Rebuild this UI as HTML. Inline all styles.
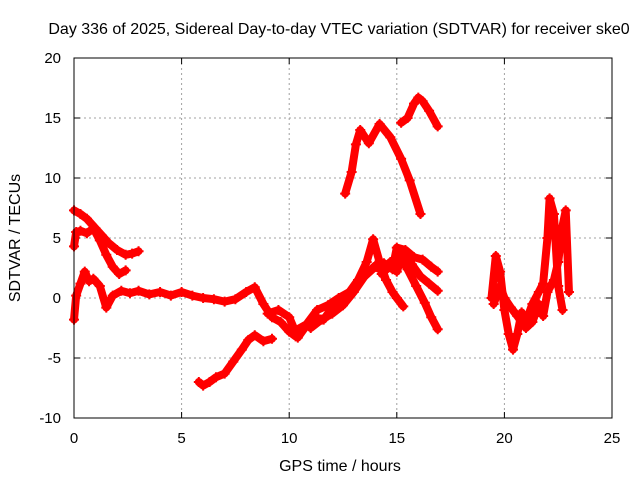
<!DOCTYPE html>
<html><head><meta charset="utf-8"><style>
body{margin:0;background:#fff}
svg{display:block;font-family:"Liberation Sans",sans-serif}
</style></head><body>
<svg id="chart" width="640" height="480">
<text x="339" y="34" text-anchor="middle" font-size="16">Day 336 of 2025, Sidereal Day-to-day VTEC variation (SDTVAR) for receiver ske0</text>
<text x="340" y="471" text-anchor="middle" font-size="16">GPS time / hours</text>
<text x="20" y="238" text-anchor="middle" font-size="16" transform="rotate(-90 20 238)">SDTVAR / TECUs</text>
<g id="grid"></g><g id="axes"></g><g id="marks"></g>
<rect x="74" y="58" width="538" height="360" fill="none" stroke="#000" stroke-width="1"/>
</svg>
<script>
const xTicks=[0,5,10,15,20,25];
const yTicks=[-10,-5,0,5,10,15,20];
const sA_x=[0,0.3,0.6,1.0,1.3,1.6,2.0,2.4,2.7,3.0];
const sA_y=[7.3,7.0,6.6,5.8,5.2,4.6,4.0,3.6,3.7,3.9];
const sB_x=[0,0.1,0.3,0.6,0.9,1.2,1.5,1.8,2.1,2.4];
const sB_y=[4.3,5.5,5.6,5.4,5.8,4.8,3.6,2.6,2.0,2.3];
const sC_x=[0,0.1,0.3,0.5,0.7,0.9,1.2,1.5,1.8,2.2,2.6,3.0,3.5,4.0,4.5,5.0,5.5,6.0,6.5,7.0,7.5,8.0,8.4,8.8,9.2,9.6,10.0,10.3];
const sC_y=[-1.8,0.2,1.2,2.2,1.4,1.6,1.0,-0.8,0.2,0.6,0.4,0.6,0.3,0.5,0.2,0.5,0.2,0.0,-0.1,-0.3,-0.1,0.5,0.9,-0.5,-1.6,-2.0,-2.8,-3.2];
const sD_x=[5.8,6.0,6.3,6.6,7.0,7.4,7.8,8.1,8.4,8.8,9.2];
const sD_y=[-7.0,-7.3,-7.0,-6.6,-6.3,-5.3,-4.3,-3.5,-3.1,-3.6,-3.4];
const sE_x=[9.0,9.5,10.0,10.4,10.8,11.2,11.6,12.0,12.4,12.8,13.2,13.6,13.9,14.2,14.5,14.8,15.0,15.3];
const sE_y=[-1.3,-1.0,-1.6,-3.3,-2.3,-1.6,-1.8,-0.8,-0.2,0.5,1.5,3.0,4.9,3.0,1.5,0.5,0.0,-0.7];
const sF_x=[10.2,10.8,11.3,11.8,12.3,12.8,13.2,13.6,14.0,14.4,14.8,15.0,15.4,15.8,16.2,16.6,16.9];
const sF_y=[-2.8,-2.2,-1.0,-0.6,0.0,0.5,1.2,2.0,2.7,2.9,2.4,4.2,4.0,3.4,3.2,2.6,2.2];
const sG_x=[11.0,11.5,12.0,12.5,13.0,13.5,14.0,14.4,14.8,15.1,15.5,15.9,16.3,16.6,16.9];
const sG_y=[-2.5,-1.8,-1.3,-0.6,0.5,1.8,2.6,2.2,2.8,3.5,2.4,1.0,-0.4,-1.6,-2.6];
const sH_x=[14.3,14.7,15.0,15.3,15.7,16.1,16.5,16.9];
const sH_y=[2.0,3.0,2.2,3.8,2.8,1.8,1.2,0.6];
const sI_x=[12.6,12.9,13.1,13.3,13.7,14.2,14.7,15.2,15.6,16.1];
const sI_y=[8.7,10.5,12.8,14.0,12.9,14.5,13.4,11.6,9.8,7.0];
const sJ_x=[15.2,15.5,15.8,16.0,16.2,16.5,16.9];
const sJ_y=[14.6,15.0,16.2,16.7,16.4,15.6,14.3];
const sK_x=[19.4,19.6,19.8,20.0,20.2,20.4,20.6,20.8,21.0,21.3,21.6,21.8,22.0,22.1,22.3,22.5,22.7];
const sK_y=[0.0,3.5,2.2,-1.0,-3.0,-4.3,-3.0,-1.2,-2.0,-0.5,0.5,1.2,5.0,8.3,7.0,1.0,-1.0];
const sL_x=[19.5,19.8,20.0,20.3,20.6,21.0,21.3,21.6,21.8,22.0,22.3,22.5,22.7,22.85,23.0];
const sL_y=[-0.5,1.0,0.0,-0.8,-1.5,-2.5,-2.0,-0.5,-1.5,0.5,1.5,3.0,6.0,7.3,0.5];
const series=[[sA_x,sA_y],[sB_x,sB_y],[sC_x,sC_y],[sD_x,sD_y],[sE_x,sE_y],[sF_x,sF_y],[sG_x,sG_y],[sH_x,sH_y],[sI_x,sI_y],[sJ_x,sJ_y],[sK_x,sK_y],[sL_x,sL_y]];
const NS="http://www.w3.org/2000/svg";
const X0=74,X1=612,Y0=418,Y1=58;
function xs(v){return X0+(v-0)/(25-0)*(X1-X0);}
function ys(v){return Y0-(v+10)/(30)*(Y0-Y1);}
function mk(tag,attrs,parent){const e=document.createElementNS(NS,tag);for(const k in attrs)e.setAttribute(k,attrs[k]);parent.appendChild(e);return e;}
const grid=document.getElementById('grid'),axes=document.getElementById('axes'),marks=document.getElementById('marks');
xTicks.forEach(t=>{
  const x=xs(t);
  if(t>0&&t<25){const g=mk('line',{x1:x,x2:x,y1:Y1,y2:Y0,stroke:'#a0a0a0','stroke-dasharray':'2,3'},grid);
  
  }
  mk('line',{x1:x,x2:x,y1:Y0,y2:Y0-6,stroke:'#000'},axes);
  mk('line',{x1:x,x2:x,y1:Y1,y2:Y1+6,stroke:'#000'},axes);
  const l=mk('text',{x:x,y:Y0+25,'text-anchor':'middle','font-size':15},axes);l.textContent=t;
  
  
});
yTicks.forEach(t=>{
  const y=ys(t);
  if(t>-10&&t<20){const g=mk('line',{x1:X0,x2:X1,y1:y,y2:y,stroke:'#a0a0a0','stroke-dasharray':'2,3'},grid);
  
  }
  mk('line',{x1:X0,x2:X0+6,y1:y,y2:y,stroke:'#000'},axes);
  mk('line',{x1:X1,x2:X1-6,y1:y,y2:y,stroke:'#000'},axes);
  const l=mk('text',{x:X0-13,y:y+5,'text-anchor':'end','font-size':15},axes);l.textContent=t;
  
  
});
series.forEach((s,i)=>{
  const pts=s[0].map((v,j)=>xs(v)+','+ys(s[1][j])).join(' ');
  const pl=mk('polyline',{points:pts,fill:'none',stroke:'#ff0000','stroke-width':8,'stroke-linejoin':'round','stroke-linecap':'round'},marks);
  
  
  s[0].forEach((v,j)=>{
    const x=xs(v),y=ys(s[1][j]);
    const p=mk('path',{d:`M${x-5},${y}H${x+5}M${x},${y-5}V${y+5}`,stroke:'#ff0000','stroke-width':2},marks);
    
    
  });
});
</script>
</body></html>
